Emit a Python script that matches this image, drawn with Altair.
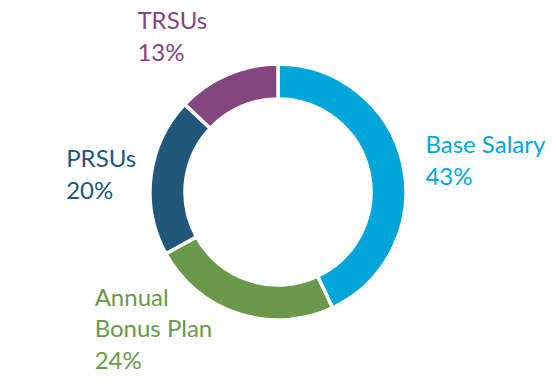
import altair as alt
import pandas as pd

categories = ["Base Salary", "Annual Bonus Plan", "PRSUs", "TRSUs"]
values = [43, 24, 20, 13]
label_lines = ["Base Salary", "Annual\nBonus Plan", "PRSUs", "TRSUs"]
colors = ["#00A6DA", "#6A994B", "#20577A", "#84467F"]

df = pd.DataFrame({
    "category": categories,
    "value": values,
    "order": list(range(len(categories))),
    "label": [f"{l}\n{v}%" for l, v in zip(label_lines, values)],
})

color_scale = alt.Scale(domain=categories, range=colors)

arcs = alt.Chart(df).mark_arc(
    outerRadius=128, innerRadius=93, stroke="white", strokeWidth=3.5
).encode(
    theta=alt.Theta("value:Q", stack=True),
    order=alt.Order("order:Q"),
    color=alt.Color("category:N", scale=color_scale, legend=None),
)

text_base = alt.Chart(df).transform_joinaggregate(
    total="sum(value)"
).transform_window(
    cum="sum(value)", sort=[alt.SortField("order")], frame=[None, 0]
).transform_calculate(
    mid="(datum.cum - datum.value / 2) / datum.total"
).encode(
    theta=alt.Theta("mid:Q", scale=alt.Scale(domain=[0, 1])),
    color=alt.Color("category:N", scale=color_scale, legend=None),
    text="label:N",
)

# label offsets (style) from the mid-angle anchor of each slice
offsets = {
    "Base Salary": (1, -6),
    "Annual Bonus Plan": (-137, -29),
    "PRSUs": (-63, -6),
    "TRSUs": (-81, -25),
}

texts = []
for cat in categories:
    dx, dy = offsets[cat]
    texts.append(
        text_base.mark_text(
            radius=150, align="left", baseline="alphabetic", dx=dx, dy=dy,
            font="Lato", fontSize=24, lineBreak="\n", lineHeight=31.5,
        ).transform_filter(alt.datum.category == cat)
    )

chart = alt.layer(arcs, alt.layer(*texts)).resolve_scale(
    theta="independent"
).properties(
    width=540, height=368, padding=0, autosize=alt.AutoSizeParams(type="none")
).configure_view(stroke=None)

chart.save("out.html", embed_options={"renderer": "svg", "actions": False})
